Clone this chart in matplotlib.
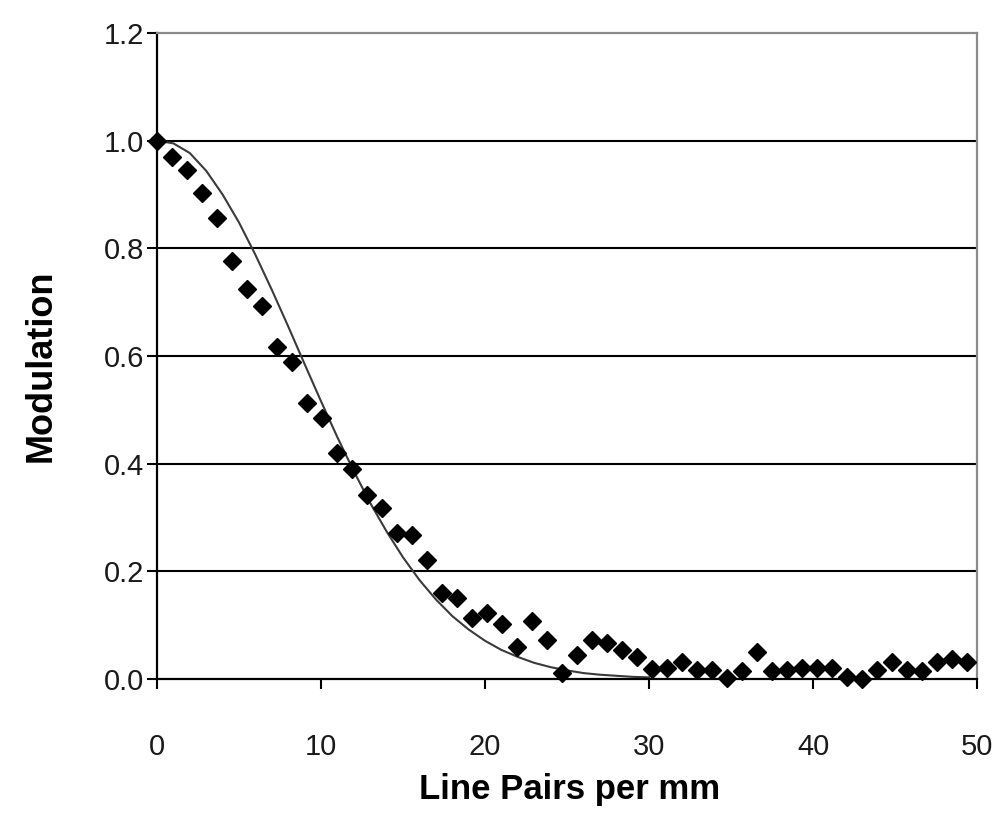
import matplotlib
matplotlib.use("Agg")
import matplotlib.pyplot as plt

# Measured MTF points (Line pairs per mm, modulation)
lp_measured = [0.00, 0.91, 1.83, 2.74, 3.66, 4.57, 5.49, 6.40, 7.31, 8.23,
               9.14, 10.06, 10.97, 11.89, 12.80, 13.71, 14.63, 15.54, 16.46, 17.37,
               18.29, 19.20, 20.11, 21.03, 21.94, 22.86, 23.77, 24.69, 25.60, 26.51,
               27.43, 28.34, 29.26, 30.17, 31.09, 32.00, 32.91, 33.83, 34.74, 35.66,
               36.57, 37.49, 38.40, 39.31, 40.23, 41.14, 42.06, 42.97, 43.89, 44.80,
               45.71, 46.63, 47.54, 48.46, 49.37]
mod_measured = [1.000, 0.970, 0.946, 0.903, 0.856, 0.777, 0.724, 0.692, 0.616, 0.589,
                0.512, 0.484, 0.419, 0.391, 0.342, 0.317, 0.272, 0.268, 0.221, 0.159,
                0.150, 0.113, 0.122, 0.103, 0.060, 0.108, 0.072, 0.011, 0.045, 0.072,
                0.066, 0.053, 0.040, 0.018, 0.020, 0.032, 0.017, 0.017, 0.001, 0.014,
                0.051, 0.014, 0.017, 0.020, 0.020, 0.020, 0.003, 0.000, 0.017, 0.032,
                0.017, 0.014, 0.032, 0.038, 0.032]

# Model curve
lp_model = [0, 1, 2, 3, 4, 5, 6, 7, 8, 9, 10, 11, 12, 13, 14, 15, 16, 17, 18, 19,
            20, 21, 22, 23, 24, 25, 26, 27, 28, 29, 30]
mod_model = [1.000, 0.995, 0.977, 0.944, 0.900, 0.848, 0.788, 0.723, 0.655, 0.585,
             0.516, 0.449, 0.386, 0.327, 0.274, 0.226, 0.184, 0.148, 0.117, 0.092,
             0.071, 0.054, 0.041, 0.030, 0.022, 0.016, 0.011, 0.008, 0.006, 0.004,
             0.003]

x_ticks = [0, 10, 20, 30, 40, 50]
y_ticks = [0.0, 0.2, 0.4, 0.6, 0.8, 1.0, 1.2]
y_grid = [0.2, 0.4, 0.6, 0.8, 1.0]

fig = plt.figure(figsize=(9.98, 8.15), dpi=100)
ax = fig.add_axes([157/998, 1-679/815, 820/998, 646/815])

for g in y_grid:
    ax.axhline(g, color="black", lw=1.5, zorder=1)

ax.plot(lp_model, mod_model, color="#3a3a3a", lw=1.5, zorder=2)
ax.plot(lp_measured, mod_measured, linestyle="none", marker="D", markersize=9,
        color="black", zorder=3, clip_on=False)

ax.set_xlim(0, 50)
ax.set_ylim(0, 1.2)
ax.set_xticks(x_ticks)
ax.set_yticks(y_ticks)
ax.set_xticklabels([str(t) for t in x_ticks])
ax.set_yticklabels([f"{t:.1f}" for t in y_ticks])

for side in ["left", "bottom"]:
    ax.spines[side].set_color("black")
    ax.spines[side].set_linewidth(1.6)
for side in ["top", "right"]:
    ax.spines[side].set_color("#8a8a8a")
    ax.spines[side].set_linewidth(1.6)

ax.tick_params(axis="both", direction="out", length=7, width=1.5, color="black")
ax.tick_params(axis="y", pad=2)
ax.tick_params(axis="x", pad=32)
for lab in ax.get_xticklabels() + ax.get_yticklabels():
    lab.set_fontfamily(["Liberation Sans", "DejaVu Sans"])
    lab.set_fontsize(21)
    lab.set_color("#1a1a1a")

labfont = ["Liberation Sans Narrow", "Liberation Sans", "DejaVu Sans"]
fig.text(570/998, 1-790/815, "Line Pairs per mm", ha="center", va="center",
         fontsize=25, fontweight="bold", family=labfont)
fig.text(41/998, 1-366/815, "Modulation", ha="center", va="center", rotation=90,
         fontsize=26, fontweight="bold", family=labfont)

fig.savefig("out.png", dpi=100, facecolor="white")
